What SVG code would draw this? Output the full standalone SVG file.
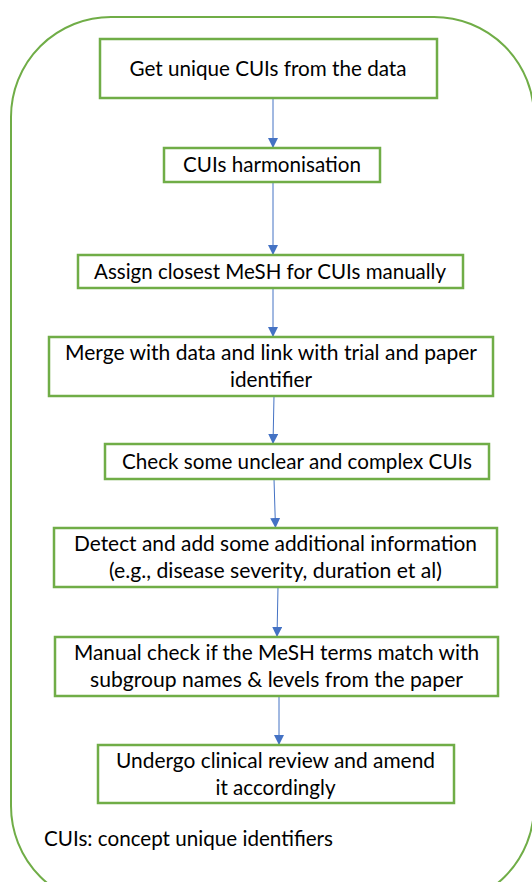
<svg xmlns="http://www.w3.org/2000/svg" width="532" height="882" viewBox="0 0 532 882">
  <style>
    .frame { fill: none; stroke: #70AD47; stroke-width: 2; }
    .box { fill: #FFFFFF; stroke: #70AD47; stroke-width: 2.5; }
    .label { font-family: Lato, "Open Sans", sans-serif; font-size: 21px; fill: #000000; text-anchor: middle; }
    .note { font-family: Lato, "Open Sans", sans-serif; font-size: 21px; fill: #000000; }
    .link { fill: none; stroke: #4472C4; stroke-width: 1; }
  </style>
  <defs>
    <marker id="arrow" markerUnits="userSpaceOnUse" markerWidth="10" markerHeight="11" refX="10" refY="5" orient="auto">
      <path d="M0,0 L10,5 L0,10 Z" fill="#4472C4"/>
    </marker>
  </defs>

  <rect width="532" height="882" fill="#FFFFFF"/>

  <!-- rounded outer frame -->
  <rect class="frame" x="11" y="17" width="523" height="889" rx="100" ry="100"/>

  <!-- connectors -->
  <g id="connectors">
    <line class="link" x1="273" y1="98" x2="273" y2="148" marker-end="url(#arrow)"/>
    <line class="link" x1="273" y1="182" x2="273" y2="255" marker-end="url(#arrow)"/>
    <line class="link" x1="273" y1="288" x2="273" y2="337" marker-end="url(#arrow)"/>
    <line class="link" x1="274" y1="396" x2="273" y2="444" marker-end="url(#arrow)"/>
    <line class="link" x1="274" y1="479" x2="275.5" y2="528" marker-end="url(#arrow)"/>
    <line class="link" x1="278" y1="587" x2="277" y2="637" marker-end="url(#arrow)"/>
    <line class="link" x1="279" y1="696" x2="279" y2="745" marker-end="url(#arrow)"/>
  </g>

  <g id="step1">
    <rect class="box" x="100" y="39" width="337" height="59"/>
    <text class="label" x="268" y="76" textLength="277" lengthAdjust="spacingAndGlyphs">Get unique CUIs from the data</text>
  </g>

  <g id="step2">
    <rect class="box" x="164" y="148" width="216" height="34"/>
    <text class="label" x="272" y="172" textLength="178" lengthAdjust="spacingAndGlyphs">CUIs harmonisation</text>
  </g>

  <g id="step3">
    <rect class="box" x="78" y="255" width="385" height="33"/>
    <text class="label" x="270" y="279" textLength="352" lengthAdjust="spacingAndGlyphs">Assign closest MeSH for CUIs manually</text>
  </g>

  <g id="step4">
    <rect class="box" x="49" y="337" width="444" height="59"/>
    <text class="label" x="271" y="360" textLength="412" lengthAdjust="spacingAndGlyphs">Merge with data and link with trial and paper</text>
    <text class="label" x="271" y="387" textLength="82" lengthAdjust="spacingAndGlyphs">identifier</text>
  </g>

  <g id="step5">
    <rect class="box" x="105" y="444" width="384" height="35"/>
    <text class="label" x="297" y="469" textLength="350" lengthAdjust="spacingAndGlyphs">Check some unclear and complex CUIs</text>
  </g>

  <g id="step6">
    <rect class="box" x="54" y="528" width="443" height="59"/>
    <text class="label" x="275.5" y="551" textLength="403" lengthAdjust="spacingAndGlyphs">Detect and add some additional information</text>
    <text class="label" x="275.5" y="578" textLength="333" lengthAdjust="spacingAndGlyphs">(e.g., disease severity, duration et al)</text>
  </g>

  <g id="step7">
    <rect class="box" x="55" y="637" width="443" height="59"/>
    <text class="label" x="276.5" y="659.5" textLength="405" lengthAdjust="spacingAndGlyphs">Manual check if the MeSH terms match with</text>
    <text class="label" x="276.5" y="687" textLength="373" lengthAdjust="spacingAndGlyphs">subgroup names &amp; levels from the paper</text>
  </g>

  <g id="step8">
    <rect class="box" x="98" y="745" width="356" height="58"/>
    <text class="label" x="275.5" y="767.5" textLength="319" lengthAdjust="spacingAndGlyphs">Undergo clinical review and amend</text>
    <text class="label" x="275.5" y="795" textLength="120" lengthAdjust="spacingAndGlyphs">it accordingly</text>
  </g>

  <g id="footnote">
    <text class="note" x="44" y="846" textLength="289" lengthAdjust="spacingAndGlyphs">CUIs: concept unique identifiers</text>
  </g>
</svg>
